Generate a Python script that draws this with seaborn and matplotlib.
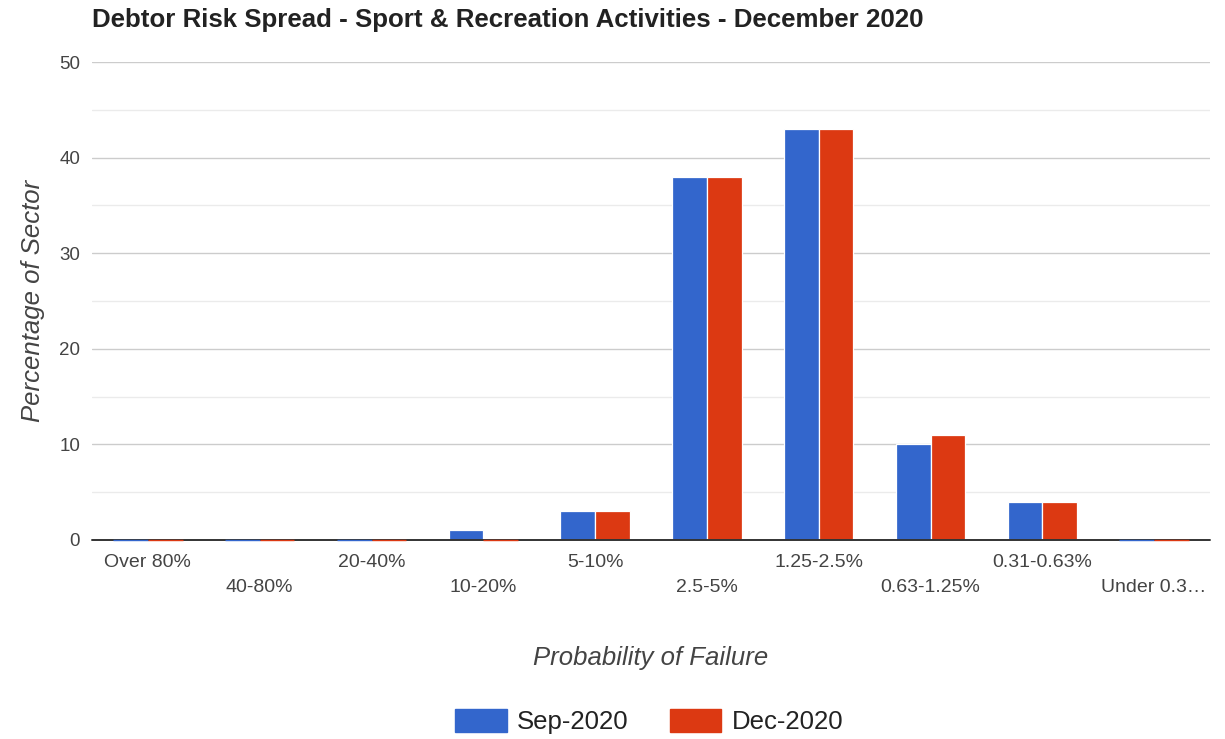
import numpy as np
import pandas as pd
import matplotlib
matplotlib.use('Agg')
import matplotlib.pyplot as plt
import seaborn as sns

categories = ['Over 80%', '40-80%', '20-40%', '10-20%', '5-10%', '2.5-5%',
              '1.25-2.5%', '0.63-1.25%', '0.31-0.63%', 'Under 0.3…']
sep_2020 = [0, 0, 0, 1, 3, 38, 43, 10, 4, 0]
dec_2020 = [0, 0, 0, 0, 3, 38, 43, 11, 4, 0]
series = ['Sep-2020', 'Dec-2020']
colors = ['#3366cc', '#dc3912']

df = pd.DataFrame({'band': categories * 2,
                   'value': sep_2020 + dec_2020,
                   'period': [series[0]] * len(categories) + [series[1]] * len(categories)})

sns.set_style('white')
plt.rcParams['font.family'] = ['Liberation Sans', 'DejaVu Sans']

fig = plt.figure(figsize=(12.25, 7.39), dpi=100)
ax = fig.add_axes([0.0751, 0.2693, 0.9127, 0.6468])

sns.barplot(data=df, x='band', y='value', hue='period', palette=colors,
            width=0.62, ax=ax, saturation=1, legend=True)
# white outline between bars, zero bars shown as a thin coloured line
for p in ax.patches:
    if p.get_height() == 0:
        p.set_edgecolor(p.get_facecolor())
        p.set_linewidth(1.0)
        p.set_clip_on(False)
        p.set_zorder(3)
    else:
        p.set_edgecolor('white')
        p.set_linewidth(0.9)

ax.set_xlim(-0.5, len(categories) - 0.5)
ax.set_ylim(0, 50)
ax.set_yticks(np.arange(0, 51, 10))
ax.set_yticks(np.arange(5, 50, 10), minor=True)
ax.grid(axis='y', which='major', color='#cccccc', lw=1)
ax.grid(axis='y', which='minor', color='#ebebeb', lw=1)
ax.set_axisbelow(True)
ax.axhline(0, color='#333333', lw=1.4, zorder=2, clip_on=False)
for s in ax.spines.values():
    s.set_visible(False)

ax.tick_params(axis='y', which='both', length=0, pad=8.5, labelsize=13.5, labelcolor='#444444')
ax.tick_params(axis='x', length=0, labelsize=14, labelcolor='#444444')
for i, t in enumerate(ax.xaxis.get_major_ticks()):
    t.set_pad(10 if i % 2 == 0 else 28)

ax.set_xlabel('Probability of Failure', fontsize=18.5, style='italic',
              color='#444444', labelpad=36)
ax.set_ylabel('Percentage of Sector', fontsize=18.5, style='italic',
              color='#444444', labelpad=10)

fig.text(0.0751, 0.9735, 'Debtor Risk Spread - Sport & Recreation Activities - December 2020',
         fontsize=18.6, fontweight='bold', color='#222222', va='center', ha='left')

handles, labels = ax.get_legend_handles_labels()
ax.legend(handles, labels, loc='center', bbox_to_anchor=(0.53, 0.024),
          bbox_transform=fig.transFigure, ncol=2, frameon=False,
          fontsize=18.5, handlelength=2.0, handleheight=1.0, handletextpad=0.4,
          columnspacing=1.6, labelcolor='#222222')

fig.savefig('out.png', dpi=100)
